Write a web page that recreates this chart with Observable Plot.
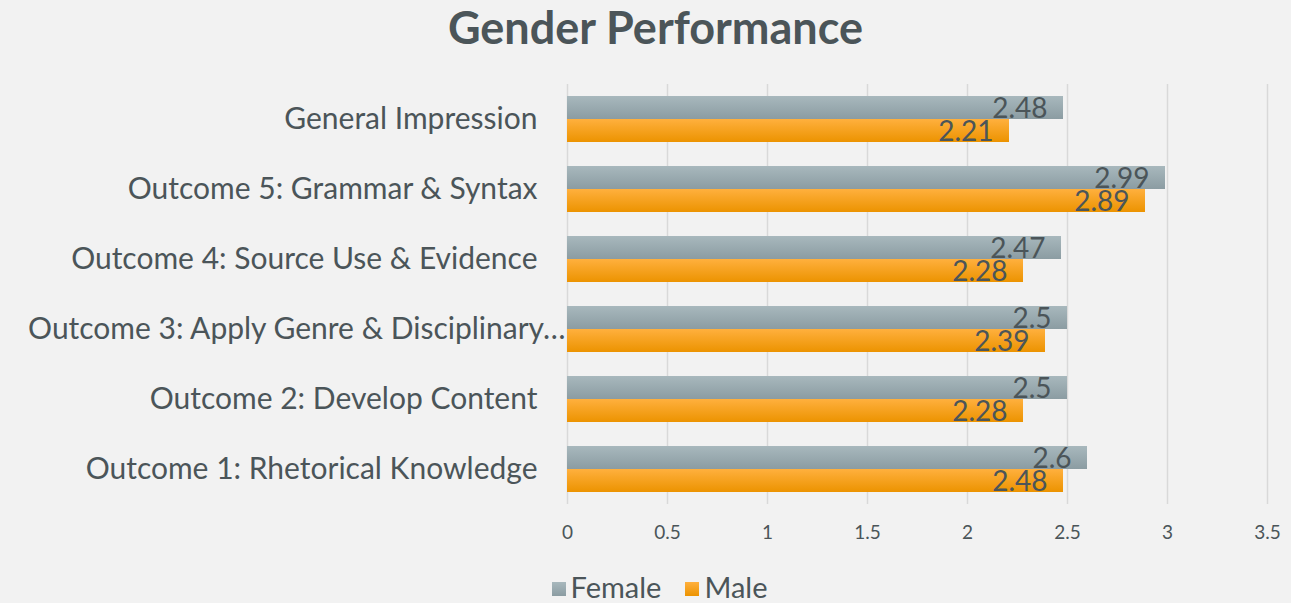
<!DOCTYPE html>
<html><head><meta charset="utf-8">
<script src="https://cdn.jsdelivr.net/npm/d3@7"></script>
<script src="https://cdn.jsdelivr.net/npm/@observablehq/plot@0.6"></script>
<style>
html,body{margin:0;padding:0;background:#f2f2f2;}
body{width:1291px;height:603px;overflow:hidden;position:relative;font-family:Lato,"Open Sans",sans-serif;color:#4b5559;}
#title{position:absolute;top:3px;left:10px;width:1291px;text-align:center;font-size:45px;font-weight:bold;line-height:48px;}
#chart{position:absolute;top:70px;left:0;}
#legend{position:absolute;top:570px;left:14px;width:1291px;text-align:center;font-size:29px;line-height:34px;}
#legend span.item{display:inline-block;margin:0 12px;}
#legend span.sw{display:inline-block;width:14px;height:14px;margin-right:5px;vertical-align:middle;position:relative;top:-2px;}
</style>
</head><body>
<div id="title">Gender Performance</div>
<div id="chart"></div>
<div id="legend"></div>
<script>
const categories = [
  "General Impression",
  "Outcome 5: Grammar & Syntax",
  "Outcome 4: Source Use & Evidence",
  "Outcome 3: Apply Genre & Disciplinary…",
  "Outcome 2: Develop Content",
  "Outcome 1: Rhetorical Knowledge"
];
const series = ["Female", "Male"];
const femaleValues = [2.48, 2.99, 2.47, 2.5, 2.5, 2.6];
const maleValues = [2.21, 2.89, 2.28, 2.39, 2.28, 2.48];
const xTicks = [0, 0.5, 1, 1.5, 2, 2.5, 3, 3.5];

const rows = [];
categories.forEach((c, i) => {
  rows.push({category: c, gender: "Female", value: femaleValues[i]});
  rows.push({category: c, gender: "Male", value: maleValues[i]});
});

const textColor = "#4b5559";
const truncated = categories.filter(c => c.endsWith("…"));
const normal = categories.filter(c => !c.endsWith("…"));

const chart = Plot.plot({
  width: 1291,
  height: 480,
  marginLeft: 567,
  marginRight: 24,
  marginTop: 14,
  marginBottom: 46,
  style: {background: "transparent", fontFamily: "Lato, 'Open Sans', sans-serif", color: textColor},
  x: {domain: [0, 3.5]},
  y: {domain: series, paddingInner: 0, paddingOuter: 0.46, axis: null},
  fy: {domain: categories, padding: 0, axis: null},
  marks: [
    Plot.gridX(xTicks, {stroke: "#d9d9d9", strokeOpacity: 1, strokeWidth: 1.5}),
    Plot.axisX(xTicks, {tickSize: 0, tickPadding: 21, fontSize: 19, label: null, tickFormat: d => String(d), fill: textColor}),
    Plot.barX(rows.filter(d => d.gender === "Female"), {fy: "category", y: "gender", x: "value", fill: "url(#gradFemale)"}),
    Plot.barX(rows.filter(d => d.gender === "Male"), {fy: "category", y: "gender", x: "value", fill: "url(#gradMale)"}),
    Plot.text(rows, {fy: "category", y: "gender", x: "value", text: d => String(d.value), textAnchor: "end", dx: -16, dy: 1, fontSize: 28, fill: textColor}),
    Plot.text(normal, {fy: d => d, frameAnchor: "left", dx: -30, textAnchor: "end", fontSize: 30, fill: textColor}),
    Plot.text(truncated, {fy: d => d, frameAnchor: "left", dx: -2, textAnchor: "end", fontSize: 30, fill: textColor})
  ]
});

const svg = d3.select(chart);
const defs = svg.insert("defs", ":first-child");
function grad(id, top, bottom) {
  const g = defs.append("linearGradient").attr("id", id).attr("x1", 0).attr("y1", 0).attr("x2", 0).attr("y2", 1);
  g.append("stop").attr("offset", "0%").attr("stop-color", top);
  g.append("stop").attr("offset", "100%").attr("stop-color", bottom);
}
grad("gradFemale", "#a8b8bd", "#8b9ca2");
grad("gradMale", "#ffb03e", "#ec9300");
document.getElementById("chart").appendChild(chart);

const legendColors = {Female: "linear-gradient(#a8b8bd,#8b9ca2)", Male: "linear-gradient(#ffb03e,#ec9300)"};
document.getElementById("legend").innerHTML = series.map(s =>
  `<span class="item"><span class="sw" style="background:${legendColors[s]}"></span>${s}</span>`).join("");
</script>
</body></html>
